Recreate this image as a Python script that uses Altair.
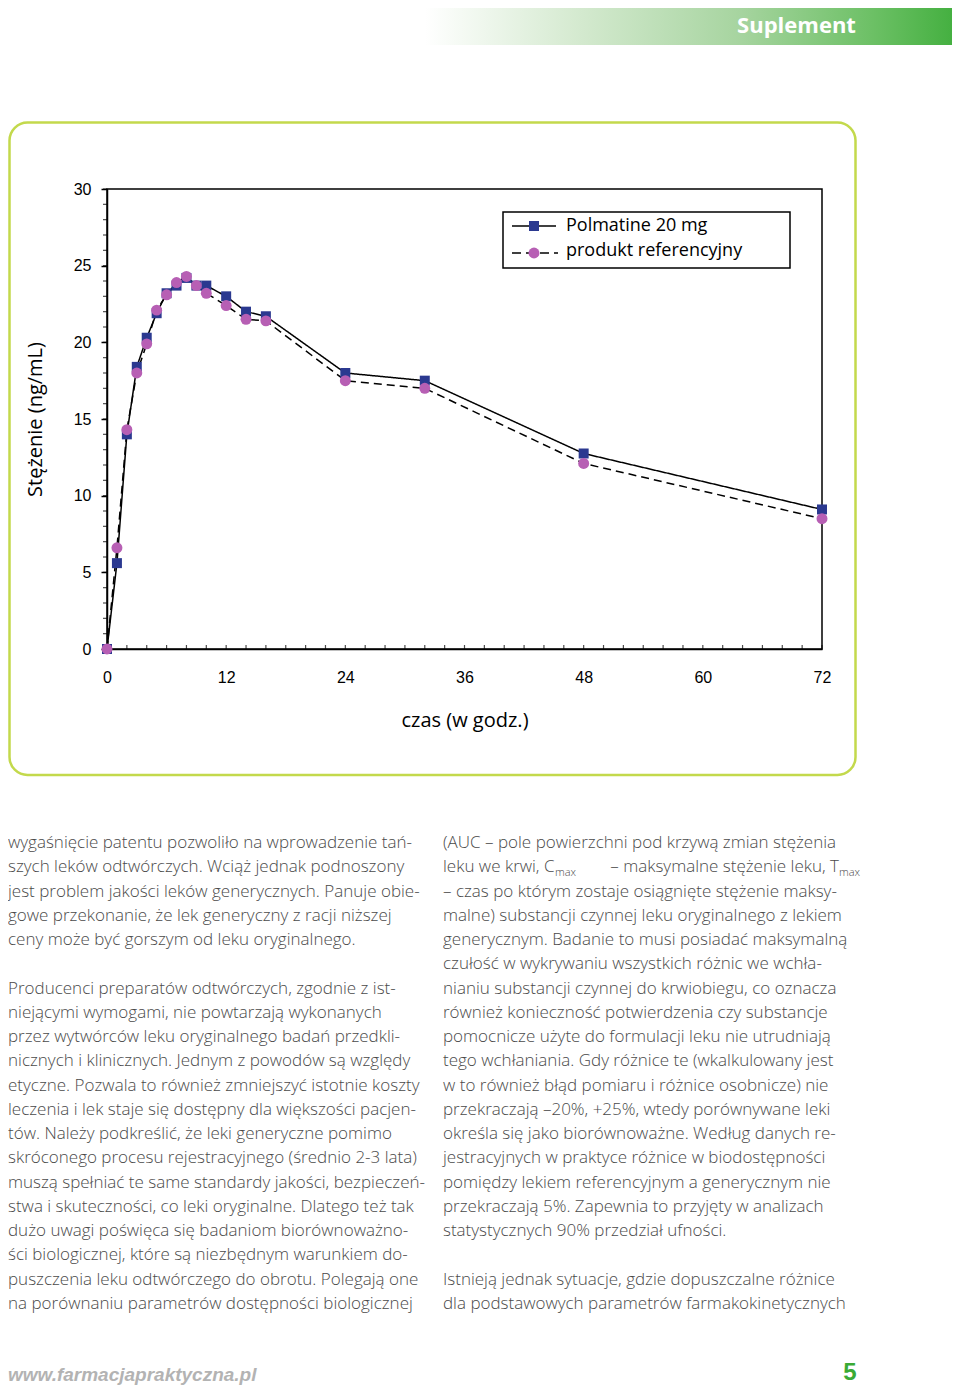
import altair as alt
import pandas as pd

# ---------------- data ----------------
hours = [0, 1, 2, 3, 4, 5, 6, 7, 8, 9, 10, 12, 14, 16, 24, 32, 48, 72]
polmatine = [0, 5.6, 14.0, 18.4, 20.3, 21.9, 23.2, 23.7, 24.2, 23.7, 23.7, 23.0, 22.0, 21.7, 18.0, 17.5, 12.75, 9.1]
reference = [0, 6.6, 14.3, 18.0, 19.9, 22.1, 23.1, 23.9, 24.3, 23.7, 23.2, 22.4, 21.5, 21.4, 17.5, 17.0, 12.1, 8.5]
series_names = ["Polmatine 20 mg", "produkt referencyjny"]
x_tick_values = [0, 12, 24, 36, 48, 60, 72]
y_tick_values = [0, 5, 10, 15, 20, 25, 30]
x_minor_ticks = list(range(0, 73, 2))
y_minor_ticks = list(range(0, 31, 1))

header_text = "Suplement"
x_title = "czas (w godz.)"
y_title = "Stężenie (ng/mL)"
footer_url = "www.farmacjapraktyczna.pl"
page_number = "5"

left_par1 = [
    "wygaśnięcie patentu pozwoliło na wprowadzenie tań-",
    "szych leków odtwórczych. Wciąż jednak podnoszony",
    "jest problem jakości leków generycznych. Panuje obie-",
    "gowe przekonanie, że lek generyczny z racji niższej",
    "ceny może być gorszym od leku oryginalnego.",
]
left_par2 = [
    "Producenci preparatów odtwórczych, zgodnie z ist-",
    "niejącymi wymogami, nie powtarzają wykonanych",
    "przez wytwórców leku oryginalnego badań przedkli-",
    "nicznych i klinicznych. Jednym z powodów są względy",
    "etyczne. Pozwala to również zmniejszyć istotnie koszty",
    "leczenia i lek staje się dostępny dla większości pacjen-",
    "tów. Należy podkreślić, że leki generyczne pomimo",
    "skróconego procesu rejestracyjnego (średnio 2-3 lata)",
    "muszą spełniać te same standardy jakości, bezpieczeń-",
    "stwa i skuteczności, co leki oryginalne. Dlatego też tak",
    "dużo uwagi poświęca się badaniom biorównoważno-",
    "ści biologicznej, które są niezbędnym warunkiem do-",
    "puszczenia leku odtwórczego do obrotu. Polegają one",
    "na porównaniu parametrów dostępności biologicznej",
]
right_line1 = ["(AUC – pole powierzchni pod krzywą zmian stężenia"]
cmax_parts = ["leku we krwi, C", "max", "– maksymalne stężenie leku, T", "max"]
right_par1_rest = [
    "– czas po którym zostaje osiągnięte stężenie maksy-",
    "malne) substancji czynnej leku oryginalnego z lekiem",
    "generycznym. Badanie to musi posiadać maksymalną",
    "czułość w wykrywaniu wszystkich różnic we wchła-",
    "nianiu substancji czynnej do krwiobiegu, co oznacza",
    "również konieczność potwierdzenia czy substancje",
    "pomocnicze użyte do formulacji leku nie utrudniają",
    "tego wchłaniania. Gdy różnice te (wkalkulowany jest",
    "w to również błąd pomiaru i różnice osobnicze) nie",
    "przekraczają –20%, +25%, wtedy porównywane leki",
    "określa się jako biorównoważne. Według danych re-",
    "jestracyjnych w praktyce różnice w biodostępności",
    "pomiędzy lekiem referencyjnym a generycznym nie",
    "przekraczają 5%. Zapewnia to przyjęty w analizach",
    "statystycznych 90% przedział ufności.",
]
right_par2 = [
    "Istnieją jednak sytuacje, gdzie dopuszczalne różnice",
    "dla podstawowych parametrów farmakokinetycznych",
]

# ---------------- layout helpers ----------------
W, H = 715, 460          # plot area
OX, OY = 107, 189        # page position of the plot origin


def px(x):
    return x - OX


def py(y):
    return y - OY


TEXT_FONT = "Open Sans"
BODY_SIZE = 17
LINE_H = 24.26
BODY_COLOR = "#4a4a4a"
FIRST_BASE = 848


def line_y(i):
    return py(FIRST_BASE + i * LINE_H)


df = pd.DataFrame({
    "t": hours * 2,
    "c": polmatine + reference,
    "s": [series_names[0]] * len(hours) + [series_names[1]] * len(hours),
})
df_p = df[df["s"] == series_names[0]]
df_r = df[df["s"] == series_names[1]]
df_xminor = pd.DataFrame({"t": x_minor_ticks})
df_yminor = pd.DataFrame({"c": y_minor_ticks})
one = pd.DataFrame({"k": [0]})

xs = alt.Scale(domain=[0, 72], nice=False, zero=True)
ys = alt.Scale(domain=[0, 30], nice=False, zero=True)

xaxis = alt.Axis(
    values=x_tick_values, title=x_title, ticks=False, tickSize=0, labelPadding=20,
    labelFont="Liberation Sans", labelFontSize=16, labelColor="black",
    labelFlush=False, labelOverlap=False, grid=False,
    domainColor="black", domainWidth=1.5,
    titleFont=TEXT_FONT, titleFontSize=20, titleFontWeight="normal", titleColor="black",
    titleX=W / 2, titleY=71, titleBaseline="middle", titleAlign="center",
)
yaxis = alt.Axis(
    values=y_tick_values, title=y_title, tickSize=6, tickColor="black", tickWidth=1.5,
    labelPadding=10, labelFont="Liberation Sans", labelFontSize=16, labelColor="black",
    labelFlush=False, labelOverlap=False, grid=False,
    domainColor="black", domainWidth=1.5,
    titleFont=TEXT_FONT, titleFontSize=20, titleFontWeight="normal", titleColor="black",
    titleX=35 - OX, titleY=H / 2, titleAngle=270, titleBaseline="middle", titleAlign="center",
)
X = alt.X("t:Q", scale=xs, axis=xaxis)
Y = alt.Y("c:Q", scale=ys, axis=yaxis)

layers = []

# page extent (transparent) – fixes the overall bounds
layers.append(alt.Chart(one).mark_rect(fill="white", fillOpacity=0).encode(
    x=alt.value(px(8)), x2=alt.value(px(952)), y=alt.value(py(8)), y2=alt.value(py(1379))))

# header banner
grad = alt.LinearGradient(
    gradient="linear",
    stops=[
        alt.GradientStop(offset=0, color="#ffffff"),
        alt.GradientStop(offset=0.3, color="#d3e9ce"),
        alt.GradientStop(offset=0.6, color="#a6d49f"),
        alt.GradientStop(offset=0.85, color="#6cc065"),
        alt.GradientStop(offset=1, color="#45b041"),
    ],
    x1=0, x2=1, y1=0, y2=0,
)
layers.append(alt.Chart(one).mark_rect(fill=grad).encode(
    x=alt.value(px(425)), x2=alt.value(px(952)), y=alt.value(py(8)), y2=alt.value(py(45))))
layers.append(alt.Chart(one).mark_text(
    font=TEXT_FONT, fontSize=22, fontWeight="bold", color="white", align="center", baseline="middle"
).encode(x=alt.value(px(796.5)), y=alt.value(py(26)), text=alt.value(header_text)))

# rounded green frame around the figure
layers.append(alt.Chart(one).mark_rect(
    fill="white", fillOpacity=0, stroke="#c3d94c", strokeWidth=2.5, cornerRadius=18
).encode(x=alt.value(px(9.5)), x2=alt.value(px(855.5)), y=alt.value(py(122.5)), y2=alt.value(py(775))))

# data lines
layers.append(alt.Chart(df).mark_line(color="black", strokeWidth=1.5).encode(
    x=X, y=Y,
    strokeDash=alt.StrokeDash("s:N", scale=alt.Scale(domain=series_names, range=[[1, 0], [8, 5]]), legend=None),
    detail="s:N",
))

# minor / inner ticks
layers.append(alt.Chart(df_xminor).mark_tick(color="black", thickness=1.2, size=4, orient="vertical").encode(
    x=X, y=alt.value(H - 2)))
layers.append(alt.Chart(df_yminor).mark_tick(color="black", thickness=1.2, size=4, orient="horizontal").encode(
    y=Y, x=alt.value(-2)))

# points
layers.append(alt.Chart(df_p).mark_square(size=100, color="#2b3990", opacity=1).encode(x=X, y=Y))
layers.append(alt.Chart(df_r).mark_circle(size=120, color="#b75fb4", opacity=1).encode(x=X, y=Y))

# legend box
layers.append(alt.Chart(one).mark_rect(fill="white", stroke="black", strokeWidth=1.5).encode(
    x=alt.value(px(503)), x2=alt.value(px(790)), y=alt.value(py(212)), y2=alt.value(py(268))))
layers.append(alt.Chart(one).mark_rule(color="black", strokeWidth=1.5).encode(
    x=alt.value(px(512)), x2=alt.value(px(556)), y=alt.value(py(226))))
layers.append(alt.Chart(one).mark_rule(color="black", strokeWidth=1.5, strokeDash=[9, 5]).encode(
    x=alt.value(px(512)), x2=alt.value(px(558)), y=alt.value(py(253))))
layers.append(alt.Chart(one).mark_square(size=100, color="#2b3990", opacity=1).encode(
    x=alt.value(px(534)), y=alt.value(py(226))))
layers.append(alt.Chart(one).mark_circle(size=120, color="#b75fb4", opacity=1).encode(
    x=alt.value(px(534)), y=alt.value(py(253))))
layers.append(alt.Chart(one).mark_text(font=TEXT_FONT, fontSize=18, color="black", align="left", baseline="middle").encode(
    x=alt.value(px(566)), y=alt.value(py(226)), text=alt.value(series_names[0])))
layers.append(alt.Chart(one).mark_text(font=TEXT_FONT, fontSize=18, color="black", align="left", baseline="middle").encode(
    x=alt.value(px(566)), y=alt.value(py(251)), text=alt.value(series_names[1])))

# body text blocks: (lines, column x, first line index)
body = dict(font=TEXT_FONT, fontSize=BODY_SIZE, fontWeight=300, color=BODY_COLOR,
            align="left", baseline="alphabetic", lineHeight=LINE_H)
blocks = [
    (left_par1, 8, 0),
    (left_par2, 8, 6),
    (right_line1, 443, 0),
    (right_par1_rest, 443, 2),
    (right_par2, 443, 18),
]
for lines, colx, start in blocks:
    layers.append(alt.Chart(one).mark_text(**body).encode(
        x=alt.value(px(colx)), y=alt.value(line_y(start)), text=alt.value(lines)))

# line with subscripts (right column, line 2)
sub = dict(font=TEXT_FONT, fontSize=11, fontWeight=300, color=BODY_COLOR, baseline="alphabetic")
single = dict(font=TEXT_FONT, fontSize=BODY_SIZE, fontWeight=300, color=BODY_COLOR, baseline="alphabetic")
layers.append(alt.Chart(one).mark_text(align="left", **single).encode(
    x=alt.value(px(443)), y=alt.value(line_y(1)), text=alt.value(cmax_parts[0])))
layers.append(alt.Chart(one).mark_text(align="left", **sub).encode(
    x=alt.value(px(555)), y=alt.value(line_y(1) + 4), text=alt.value(cmax_parts[1])))
layers.append(alt.Chart(one).mark_text(align="right", **single).encode(
    x=alt.value(px(839)), y=alt.value(line_y(1)), text=alt.value(cmax_parts[2])))
layers.append(alt.Chart(one).mark_text(align="left", **sub).encode(
    x=alt.value(px(839)), y=alt.value(line_y(1) + 4), text=alt.value(cmax_parts[3])))

# footer
layers.append(alt.Chart(one).mark_text(
    font="Liberation Sans", fontSize=19, fontWeight="bold", fontStyle="italic", color="#b3b3b3",
    align="left", baseline="middle").encode(
    x=alt.value(px(8)), y=alt.value(py(1375)), text=alt.value(footer_url)))
layers.append(alt.Chart(one).mark_text(
    font="Liberation Sans", fontSize=24, fontWeight="bold", color="#3aaa35",
    align="center", baseline="middle").encode(
    x=alt.value(px(850)), y=alt.value(py(1373)), text=alt.value(page_number)))

chart = alt.layer(*layers).properties(
    width=W, height=H, padding=0, background="white",
    autosize=alt.AutoSizeParams(type="pad"),
).configure_view(stroke="black", strokeWidth=1.5)

chart.save("out.html", embed_options={"renderer": "svg", "actions": False})
